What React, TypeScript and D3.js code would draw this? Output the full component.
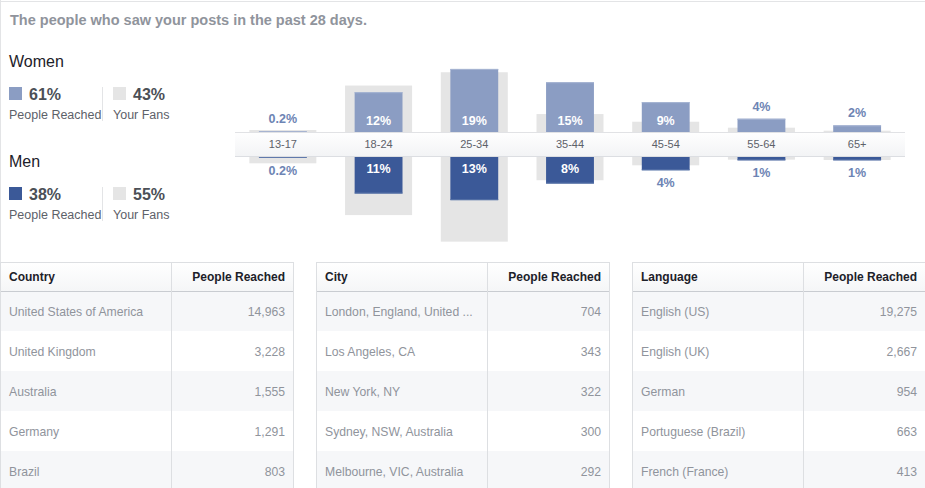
import React from "react";
import * as d3 from "d3";

const ageGroups = ["13-17", "18-24", "25-34", "35-44", "45-54", "55-64", "65+"];
const womenReached = [0.2, 12, 19, 15, 9, 4, 2];
const menReached = [0.2, 11, 13, 8, 4, 1, 1];
const womenFans = [0.6, 14, 18, 5.4, 3.1, 1.3, 0.4];
const menFans = [1.9, 17.5, 25.5, 7, 2.5, 0.8, 0.9];

const summaryWomen = { reached: "61%", fans: "43%" };
const summaryMen = { reached: "38%", fans: "55%" };

const countries = ["United States of America", "United Kingdom", "Australia", "Germany", "Brazil"];
const countryReached = [14963, 3228, 1555, 1291, 803];
const cities = ["London, England, United ...", "Los Angeles, CA", "New York, NY", "Sydney, NSW, Australia", "Melbourne, VIC, Australia"];
const cityReached = [704, 343, 322, 300, 292];
const languages = ["English (US)", "English (UK)", "German", "Portuguese (Brazil)", "French (France)"];
const languageReached = [19275, 2667, 954, 663, 413];

const W = 925;
const H = 488;
const FONT = "'Liberation Sans', Arial, sans-serif";
const WOMEN = "#8b9dc3";
const MEN = "#3b5998";
const FAN = "#e5e5e5";
const LABEL_BLUE = "#6d84b4";

const bandTop = 132;
const bandBottom = 157;

const x = d3.scaleBand<string>().domain(ageGroups).range([235, 905]).padding(0);
const h = d3.scaleLinear().domain([0, 26]).range([0, 86.3]);
const fmtPct = (v: number) => (v < 1 ? v.toFixed(1) : d3.format("d")(v)) + "%";
const fmtNum = d3.format(",");

function Legend({ title, y, color, s }: { title: string; y: number; color: string; s: { reached: string; fans: string } }) {
  return (
    <g>
      <text x={9} y={y} fontSize={16} fill="#1d2129">{title}</text>
      <rect x={9} y={y + 20} width={13} height={13} fill={color} />
      <text x={29} y={y + 33} fontSize={16} fontWeight="bold" fill="#4b4f56">{s.reached}</text>
      <text x={9} y={y + 52} fontSize={12.5} fill="#5d6169">People Reached</text>
      <line x1={102.5} x2={102.5} y1={y + 20} y2={y + 54} stroke="#e3e4e6" />
      <rect x={113} y={y + 20} width={13} height={13} fill={FAN} />
      <text x={133} y={y + 33} fontSize={16} fontWeight="bold" fill="#4b4f56">{s.fans}</text>
      <text x={113} y={y + 52} fontSize={12.5} fill="#5d6169">Your Fans</text>
    </g>
  );
}

function Table({ x0, width, divider, header, names, values }: { x0: number; width: number; divider: number; header: string; names: string[]; values: number[] }) {
  const top = 262;
  const headH = 29;
  const rowH = 40;
  const rows = names.map((n, i) => ({ n, v: values[i], y: top + headH + i * rowH }));
  return (
    <g>
      <rect x={x0} y={top} width={width} height={headH} fill="url(#headGrad)" />
      {rows.map((r, i) => (
        <rect key={i} x={x0} y={r.y} width={width} height={rowH} fill={i % 2 === 0 ? "#f6f7f9" : "#ffffff"} />
      ))}
      <line x1={x0} x2={x0 + width} y1={top + 0.5} y2={top + 0.5} stroke="#dddfe2" />
      <line x1={x0} x2={x0 + width} y1={top + headH + 0.5} y2={top + headH + 0.5} stroke="#c9ccd1" />
      <line x1={x0 + 0.5} x2={x0 + 0.5} y1={top} y2={H} stroke="#dddfe2" />
      <line x1={x0 + divider + 0.5} x2={x0 + divider + 0.5} y1={top} y2={H} stroke="#dddfe2" />
      <line x1={x0 + width + 0.5} x2={x0 + width + 0.5} y1={top} y2={H} stroke="#dddfe2" />
      <text x={x0 + 9} y={top + 19} fontSize={12} fontWeight="bold" fill="#1d2129">{header}</text>
      <text x={x0 + width - 8} y={top + 19} fontSize={12} fontWeight="bold" fill="#1d2129" textAnchor="end">People Reached</text>
      {rows.map((r, i) => (
        <g key={i}>
          <text x={x0 + 9} y={r.y + 25} fontSize={12.2} fill="#90949c">{r.n}</text>
          <text x={x0 + width - 8} y={r.y + 25} fontSize={12.2} fill="#90949c" textAnchor="end">{fmtNum(r.v)}</text>
        </g>
      ))}
    </g>
  );
}

export default function App() {
  const bw = x.bandwidth();
  const barW = bw * 0.5;
  const fanW = bw * 0.7;
  return (
    <svg width={W} height={H} style={{ position: "absolute", left: 0, top: 0, fontFamily: FONT }}>
      <defs>
        <linearGradient id="bandGrad" x1="0" y1="0" x2="0" y2="1">
          <stop offset="0" stopColor="#ffffff" />
          <stop offset="1" stopColor="#f2f3f5" />
        </linearGradient>
        <linearGradient id="headGrad" x1="0" y1="0" x2="0" y2="1">
          <stop offset="0" stopColor="#ffffff" />
          <stop offset="1" stopColor="#f5f6f7" />
        </linearGradient>
      </defs>
      <rect width={W} height={H} fill="#ffffff" />
      <line x1={0} x2={W} y1={1.5} y2={1.5} stroke="#e3e4e6" />
      <line x1={0.5} x2={0.5} y1={0} y2={H} stroke="#e3e4e6" />
      <text x={10} y={25} fontSize={14.5} fontWeight="bold" fill="#90949c">The people who saw your posts in the past 28 days.</text>

      <Legend title="Women" y={67} color={WOMEN} s={summaryWomen} />
      <Legend title="Men" y={167} color={MEN} s={summaryMen} />

      {ageGroups.map((g, i) => {
        const cx = (x(g) as number) + bw / 2;
        return (
          <g key={"f" + g}>
            <rect x={cx - fanW / 2} y={bandTop - h(womenFans[i])} width={fanW} height={h(womenFans[i])} fill={FAN} />
            <rect x={cx - fanW / 2} y={bandBottom} width={fanW} height={h(menFans[i])} fill={FAN} />
          </g>
        );
      })}
      {ageGroups.map((g, i) => {
        const cx = (x(g) as number) + bw / 2;
        const wh = h(womenReached[i]);
        const mh = h(menReached[i]);
        const wIn = wh >= 20;
        const mIn = mh >= 20;
        return (
          <g key={"b" + g}>
            <rect x={cx - barW / 2} y={bandTop - wh} width={barW} height={wh} fill={WOMEN} />
            <rect x={cx - barW / 2} y={bandTop - wh} width={barW} height={1} fill="#a7b5d3" />
            <rect x={cx - barW / 2} y={bandBottom} width={barW} height={mh} fill={MEN} />
            <rect x={cx - barW / 2} y={bandBottom + mh - 1} width={barW} height={1} fill="#5873a8" />
            <text x={cx} y={wIn ? bandTop - 7 : bandTop - wh - 8} fontSize={12.5} fontWeight="bold" textAnchor="middle" fill={wIn ? "#ffffff" : LABEL_BLUE}>{fmtPct(womenReached[i])}</text>
            <text x={cx} y={mIn ? bandBottom + 15.5 : bandBottom + mh + 17} fontSize={12.5} fontWeight="bold" textAnchor="middle" fill={mIn ? "#ffffff" : LABEL_BLUE}>{fmtPct(menReached[i])}</text>
          </g>
        );
      })}
      <rect x={235} y={bandTop} width={670} height={bandBottom - bandTop} fill="url(#bandGrad)" />
      <line x1={235} x2={905} y1={bandTop + 0.5} y2={bandTop + 0.5} stroke="#e1e2e5" />
      <line x1={235} x2={905} y1={bandBottom - 0.5} y2={bandBottom - 0.5} stroke="#dcdee2" />
      {ageGroups.map((g) => (
        <text key={"l" + g} x={(x(g) as number) + bw / 2} y={148} fontSize={11} textAnchor="middle" fill="#5d6169">{g}</text>
      ))}

      <Table x0={0} width={293} divider={171} header="Country" names={countries} values={countryReached} />
      <Table x0={316} width={293} divider={171} header="City" names={cities} values={cityReached} />
      <Table x0={632} width={293} divider={171} header="Language" names={languages} values={languageReached} />
    </svg>
  );
}
